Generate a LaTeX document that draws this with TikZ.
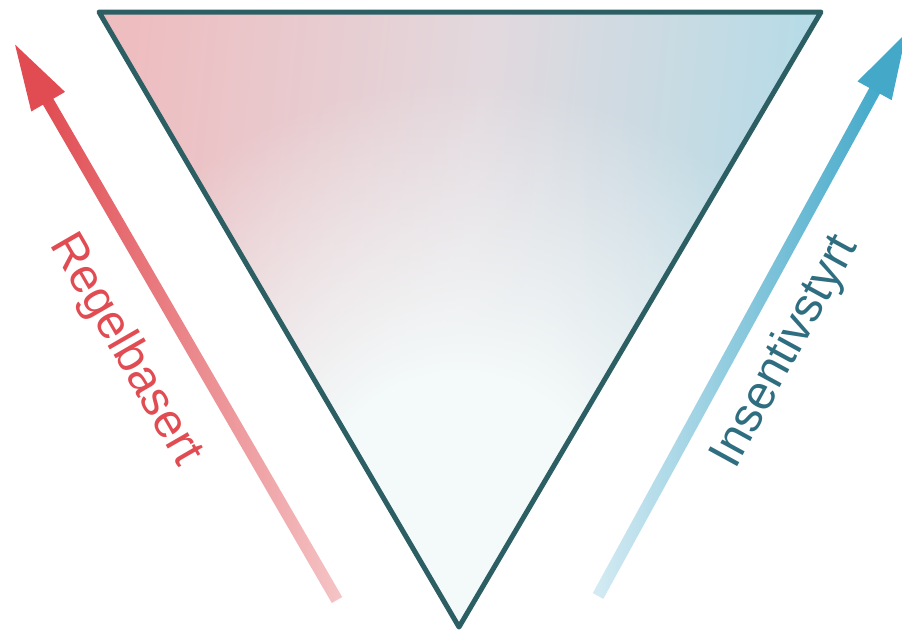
\documentclass[tikz,border=0pt]{standalone}
\usepackage{fontspec}
\setmainfont{Liberation Sans}
\usetikzlibrary{arrows.meta,fadings}
\definecolor{redc}{HTML}{E04C52}
\definecolor{redlt}{HTML}{F5C5C7}
\definecolor{bluec}{HTML}{44A9C9}
\definecolor{bluelt}{HTML}{D5EBF3}
\definecolor{edgec}{HTML}{2C5F64}
\definecolor{tealtxt}{HTML}{2E6E80}
\definecolor{pinkf}{HTML}{EEBDC0}
\definecolor{midf}{HTML}{E2D9DE}
\definecolor{bluef}{HTML}{B1DCE8}
\definecolor{palef}{HTML}{F4F9F9}
\pgfdeclareradialshading{glowshade}{\pgfpoint{0bp}{0bp}}{color(0bp)=(white); color(7.2bp)=(white); color(21.2bp)=(black); color(50bp)=(black)}
\begin{tikzfadingfrompicture}[name=glow]
  \fill[black] (-700pt,-700pt) rectangle (700pt,700pt);
  \shade[shading=glowshade] (0,0) circle (520pt);
\end{tikzfadingfrompicture}
\tikzset{
  tri/.style={draw=edgec, line width=5pt, line join=round},
  lbl/.style={font=\fontsize{48}{54}\selectfont, inner sep=0pt},
}

\begin{document}
\begin{tikzpicture}[x=1pt, y=-1pt]
\useasboundingbox (0,0) rectangle (902,635);

\coordinate (tl) at (99,12);
\coordinate (tr) at (821,12);
\coordinate (bt) at (459,627);

\shade[left color=pinkf, right color=bluef, middle color=midf, shading angle=84] (tl) -- (tr) -- (bt) -- cycle;
\fill[palef, path fading=glow, fit fading=false, fading transform={shift={(460,520)}}] (tl) -- (tr) -- (bt) -- cycle;
\draw[tri] (tl) -- (tr) -- (bt) -- cycle;

\begin{scope}[shift={(337,600)}, rotate=120.1]
  \shade[left color=redc, right color=redlt] (0,-6) rectangle (578,6);
  \fill[redc] (576,-19.5) -- (642,0) -- (576,19.5) -- cycle;
\end{scope}

\begin{scope}[shift={(598,596)}, rotate=61.3]
  \shade[left color=bluelt, right color=bluec] (0,-6) rectangle (578,6);
  \fill[bluec] (576,-19.5) -- (642,0) -- (576,19.5) -- cycle;
\end{scope}

\node[lbl, text=redc, rotate=-60] (regel) at (125,350) {Regelbasert};
\node[lbl, text=tealtxt, rotate=61.3] (insent) at (786,352) {Insentivstyrt};

\end{tikzpicture}
\end{document}
